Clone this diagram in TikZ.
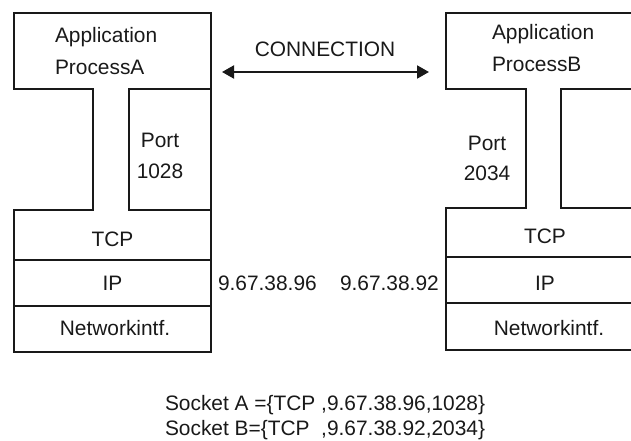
\documentclass[tikz,border=0pt]{standalone}
\usepackage{fontspec}
\setmainfont{Liberation Sans}
\usetikzlibrary{arrows.meta}
\tikzset{
  boxline/.style={line width=1.9pt, draw=black!90, line join=miter},
  lbl/.style={inner sep=0pt, outer sep=0pt, font=\fontsize{20.9}{24}\selectfont, text=black!90},
  conn/.style={line width=2pt, draw=black!90, {Triangle[length=12pt,width=13pt]}-{Triangle[length=12pt,width=13pt]}}
}
\begin{document}
\begin{tikzpicture}[x=1pt,y=-1pt]
\useasboundingbox (0,0) rectangle (631,441);
\clip (0,0) rectangle (631,441);
% left structure
\draw[boxline] (93,210) -- (93,89) -- (14,89) -- (14,13) -- (211,13) -- (211,352) -- (14,352) -- (14,210) -- cycle;
\draw[boxline] (129,89) rectangle (211,210);
\draw[boxline] (14,260) -- (211,260);
\draw[boxline] (14,306) -- (211,306);
% right structure
\draw[boxline] (526,208) -- (526,89) -- (446,89) -- (446,13) -- (643,13) -- (643,350) -- (446,350) -- (446,208) -- cycle;
\draw[boxline] (561,89) rectangle (643,208);
\draw[boxline] (446,257) -- (643,257);
\draw[boxline] (446,303) -- (643,303);
% texts left
\node[lbl, anchor=base west] (appA1) at (55,43) {Application};
\node[lbl, anchor=base west] (appA2) at (55,75) {ProcessA};
\node[lbl, anchor=base] (portA1) at (160,147) {Port};
\node[lbl, anchor=base] (portA2) at (160,178) {1028};
\node[lbl, anchor=base] (tcpA) at (112.5,246) {TCP};
\node[lbl, anchor=base] (ipA) at (112.5,290) {IP};
\node[lbl, anchor=base] (netA) at (115,335) {Networkintf.};
% texts right
\node[lbl, anchor=base west] (appB1) at (492,40) {Application};
\node[lbl, anchor=base west] (appB2) at (492,72) {ProcessB};
\node[lbl, anchor=base] (portB1) at (487,150) {Port};
\node[lbl, anchor=base] (portB2) at (487,180) {2034};
\node[lbl, anchor=base] (tcpB) at (545,243.5) {TCP};
\node[lbl, anchor=base] (ipB) at (545,290) {IP};
\node[lbl, anchor=base] (netB) at (549,335) {Networkintf.};
% addresses
\node[lbl, anchor=base west] (addrA) at (218,290) {9.67.38.96};
\node[lbl, anchor=base west] (addrB) at (340,290) {9.67.38.92};
% connection
\node[lbl, anchor=base] (connlbl) at (325,57) {CONNECTION};
\coordinate (ca) at (222,72);
\coordinate (cb) at (429,72);
\draw[conn] (ca) -- (cb);
% sockets
\node[lbl, anchor=base west] (sockA) at (165,410) {Socket A =\{TCP ,9.67.38.96,1028\}};
\node[lbl, anchor=base west] (sockB) at (165,435) {Socket B=\{TCP\ \ ,9.67.38.92,2034\}};
\end{tikzpicture}
\end{document}
